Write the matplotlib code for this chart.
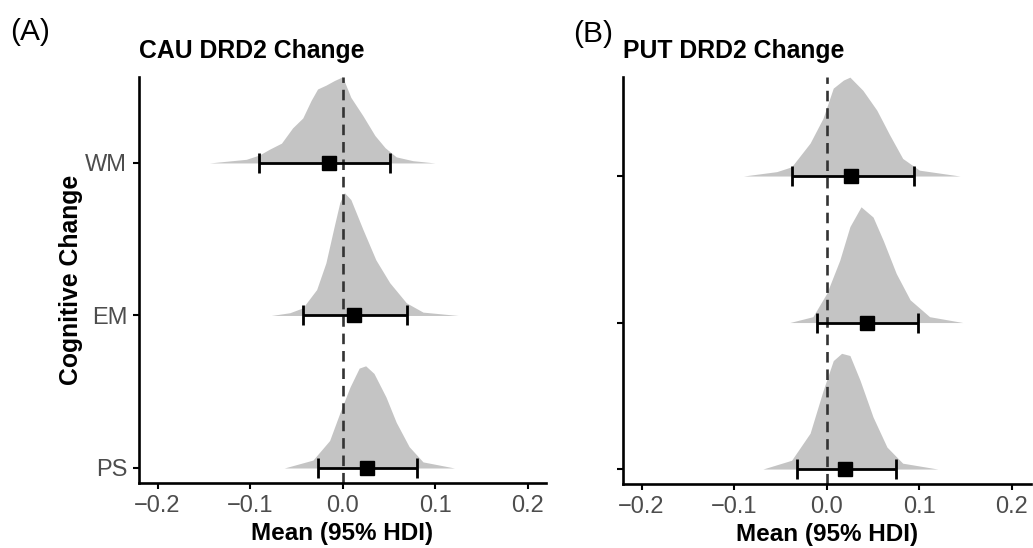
import numpy as np
import matplotlib.pyplot as plt

plt.rcParams['font.family'] = ['Liberation Sans', 'DejaVu Sans']

cats = ['PS', 'EM', 'WM']
ypos = [1, 2, 3]

# point estimates and 95% HDI
cau_mean = [0.026, 0.012, -0.015]
cau_lo = [-0.027, -0.043, -0.090]
cau_hi = [0.081, 0.070, 0.051]

put_mean = [0.020, 0.043, 0.026]
put_lo = [-0.032, -0.011, -0.037]
put_hi = [0.075, 0.099, 0.094]

# posterior density outlines (x, height in row units)
cau_ps_x = [-0.063, -0.032, -0.014, -0.003, 0.008, 0.018, 0.025, 0.034, 0.047, 0.058, 0.072, 0.087, 0.121]
cau_ps_h = [0.0, 0.052, 0.18, 0.36, 0.53, 0.655, 0.67, 0.62, 0.465, 0.30, 0.14, 0.04, 0.0]
cau_em_x = [-0.077, -0.057, -0.043, -0.028, -0.018, -0.009, -0.003, 0.002, 0.009, 0.022, 0.036, 0.051, 0.069, 0.087, 0.125]
cau_em_h = [0.0, 0.018, 0.05, 0.17, 0.345, 0.585, 0.74, 0.805, 0.76, 0.565, 0.365, 0.215, 0.083, 0.022, 0.0]
cau_wm_x = [-0.144, -0.104, -0.090, -0.079, -0.066, -0.054, -0.043, -0.034, -0.027, -0.018, -0.009, 0.0, 0.009, 0.022, 0.035, 0.046, 0.058, 0.076, 0.100]
cau_wm_h = [0.0, 0.024, 0.052, 0.09, 0.13, 0.23, 0.295, 0.41, 0.485, 0.51, 0.54, 0.565, 0.43, 0.31, 0.18, 0.10, 0.04, 0.015, 0.0]

put_ps_x = [-0.069, -0.038, -0.018, -0.004, 0.007, 0.016, 0.025, 0.036, 0.050, 0.065, 0.082, 0.120]
put_ps_h = [0.0, 0.06, 0.245, 0.535, 0.74, 0.79, 0.775, 0.605, 0.355, 0.15, 0.04, 0.0]
put_em_x = [-0.040, -0.015, 0.0, 0.014, 0.025, 0.037, 0.050, 0.061, 0.075, 0.090, 0.111, 0.147]
put_em_h = [0.0, 0.04, 0.2, 0.425, 0.655, 0.79, 0.72, 0.56, 0.335, 0.155, 0.04, 0.0]
put_wm_x = [-0.090, -0.054, -0.038, -0.018, -0.004, 0.007, 0.018, 0.025, 0.039, 0.054, 0.068, 0.082, 0.10, 0.144]
put_wm_h = [0.0, 0.03, 0.063, 0.225, 0.395, 0.6, 0.655, 0.675, 0.585, 0.45, 0.28, 0.12, 0.04, 0.0]

fig = plt.figure(figsize=(10.33, 5.48), dpi=100)
axA = fig.add_axes([0.1346, 0.1186, 0.394, 0.741])
axB = fig.add_axes([0.6031, 0.1168, 0.3945, 0.7427])

def panel(ax, dens, mean, lo, hi, ylim, title, show_labels):
    for y, (dx, dh) in zip(ypos, dens):
        ax.fill_between(dx, y, y + np.array(dh), color='#c4c4c4', lw=0, zorder=1)
    ax.axvline(0, color='#333333', ls=(0, (4, 2.6)), lw=1.9, zorder=2)
    ax.errorbar(mean, ypos, xerr=[np.array(mean) - np.array(lo), np.array(hi) - np.array(mean)],
                fmt='none', ecolor='black', elinewidth=2.0, capsize=7, capthick=2.0, zorder=3)
    ax.plot(mean, ypos, 's', color='black', ms=10, zorder=4)
    ax.set_xlim(-0.22, 0.22)
    ax.set_ylim(*ylim)
    ax.set_xticks([-0.2, -0.1, 0.0, 0.1, 0.2])
    ax.set_xticklabels(['\u22120.2', '\u22120.1', '0.0', '0.1', '0.2'])
    ax.set_yticks(ypos)
    if show_labels:
        ax.set_yticklabels(cats)
        ax.set_ylabel('Cognitive Change', fontsize=17.8, fontweight='bold')
        ax.yaxis.set_label_coords(-0.137, 0.5)
    else:
        ax.set_yticklabels([])
    for s in ['top', 'right']:
        ax.spines[s].set_visible(False)
    for s in ['left', 'bottom']:
        ax.spines[s].set_linewidth(1.9)
    ax.tick_params(length=4.5, width=1.5, labelsize=17, labelcolor='#4d4d4d', pad=4)
    ax.set_xlabel('Mean (95% HDI)', fontsize=17.5, fontweight='bold')
    ax.xaxis.set_label_coords(0.5, -0.097)
    ax.set_title(title, loc='left', fontsize=17.8, fontweight='bold', pad=13.7)

panel(axA, [(cau_ps_x, cau_ps_h), (cau_em_x, cau_em_h), (cau_wm_x, cau_wm_h)],
      cau_mean, cau_lo, cau_hi, (0.9016, 3.564), 'CAU DRD2 Change', True)
panel(axB, [(put_ps_x, put_ps_h), (put_em_x, put_em_h), (put_wm_x, put_wm_h)],
      put_mean, put_lo, put_hi, (0.898, 3.676), 'PUT DRD2 Change', False)

fig.text(0.010, 0.927, '(A)', fontsize=21.5)
fig.text(0.555, 0.923, '(B)', fontsize=21.5)

fig.savefig('out.png', dpi=100)
